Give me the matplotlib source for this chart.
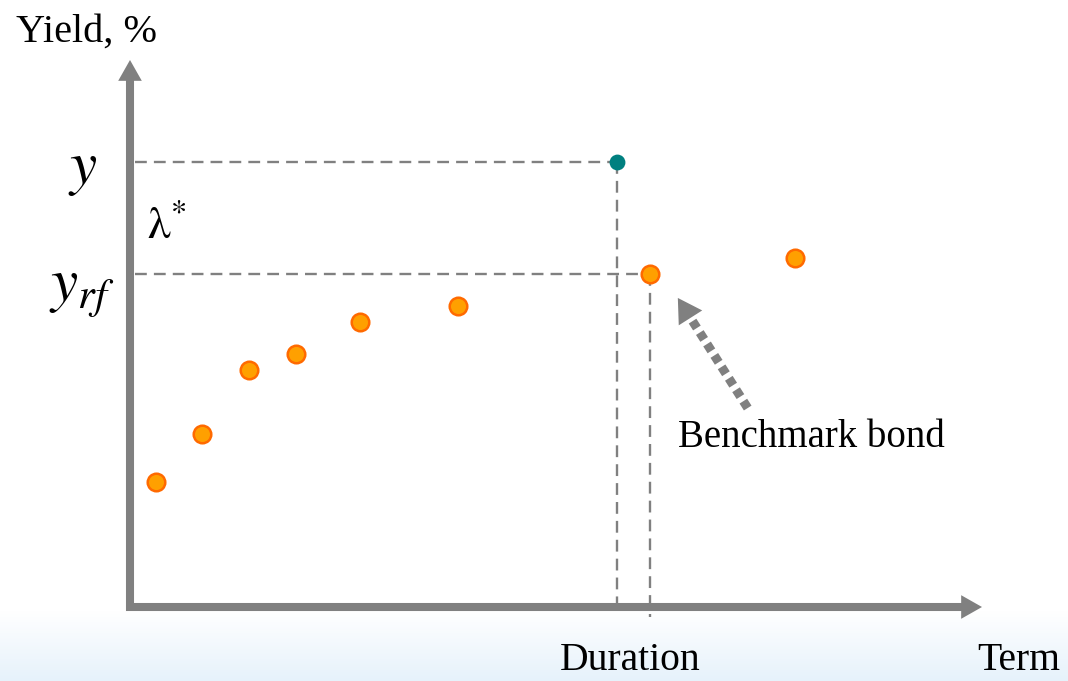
import numpy as np
import matplotlib.pyplot as plt
from matplotlib.patches import FancyArrowPatch
from matplotlib.colors import LinearSegmentedColormap

# bond yield curve points (term in years, yield in %)
terms = [0.3, 0.85, 1.4, 1.95, 2.7, 3.85, 6.1, 7.8]
yields = [1.83, 2.53, 3.47, 3.70, 4.17, 4.40, 4.87, 5.10]
benchmark_idx = 6

# priced bond: its duration and yield
duration = 5.72
bond_yield = 6.51

plt.rcParams['mathtext.fontset'] = 'stix'
serif = ['Liberation Serif', 'DejaVu Serif']
grey = '#808080'

fig = plt.figure(figsize=(10.68, 6.81), dpi=100)

# pale blue band along the bottom
bg = fig.add_axes([0, 0, 1, 70 / 681], zorder=0)
grad = np.linspace(0, 1, 256).reshape(-1, 1)
cmap = LinearSegmentedColormap.from_list('band', ['#e6f2fb', '#ffffff'])
bg.imshow(grad, aspect='auto', cmap=cmap, origin='lower', extent=[0, 1, 0, 1])
bg.axis('off')

ax = fig.add_axes([130 / 1068, 74 / 681, 852 / 1068, 547 / 681], zorder=1)
ax.set_facecolor('none')
ax.set_xlim(0, 10)
ax.set_ylim(0, 8)
ax.axis('off')

# axes drawn as thick grey arrows
ax.plot([0, 0, 9.8], [7.8, 0, 0], color=grey, lw=5.8, solid_joinstyle='miter',
        solid_capstyle='projecting', clip_on=False, zorder=2)
for a, b in [((0, 7.6), (0, 8)), ((9.6, 0), (10, 0))]:
    ax.add_patch(FancyArrowPatch(a, b, arrowstyle='-|>,head_length=15,head_width=8.5',
                                 mutation_scale=1, lw=0, color=grey, shrinkA=0, shrinkB=0,
                                 clip_on=False, zorder=3))

# guide lines to the priced bond and the benchmark
bx, by = terms[benchmark_idx], yields[benchmark_idx]
dash = dict(color=grey, lw=1.7, linestyle=(0, (5, 3)), clip_on=False, zorder=1)
ax.plot([0.06, duration], [bond_yield, bond_yield], **dash)
ax.plot([0.06, bx], [by, by], **dash)
ax.plot([duration, duration], [bond_yield, 0], **dash)
ax.plot([bx, bx], [by, -0.15], **dash)

ax.scatter(terms, yields, s=160, color='#ffa000', edgecolor='#ff6a00', linewidth=1.8, zorder=4)
ax.scatter([duration], [bond_yield], s=130, color='#008080', linewidth=0, zorder=4)

# dotted pointer to the benchmark bond
tail = (7.25, 2.91)
tip = (6.43, 4.52)
near = (tip[0] + 0.13 * (tail[0] - tip[0]), tip[1] + 0.13 * (tail[1] - tip[1]))
ax.plot([tail[0], near[0]], [tail[1], near[1]], color=grey, lw=6.5,
        linestyle=(0, (0.9, 0.6)), dash_capstyle='butt', zorder=3)
ax.add_patch(FancyArrowPatch(near, tip, arrowstyle='-|>,head_length=17,head_width=10',
                             mutation_scale=1, lw=0, color=grey, shrinkA=0, shrinkB=0, zorder=3))
ax.text(6.43, 2.48, 'Benchmark bond', fontsize=28, family=serif, ha='left', va='center')

# labels
fig.text(16 / 1068, 1 - 32 / 681, 'Yield, %', fontsize=29, family=serif, ha='left', va='center')
ax.text(-0.56, bond_yield - 0.1, '$y$', fontsize=44, ha='center', va='center', clip_on=False)
ax.text(0.2, 5.57, r'$\mathrm{\lambda}^{*}$', fontsize=33, ha='left', va='center', clip_on=False)
ax.text(-0.57, by - 0.22, r'$y_{rf}$', fontsize=44, ha='center', va='center', clip_on=False)
ax.text(duration + 0.15, -1.06, 'Duration', fontsize=28.5, family=serif, ha='center', va='bottom',
        clip_on=False)
ax.text(10.43, -1.06, 'Term', fontsize=28.5, family=serif, ha='center', va='bottom', clip_on=False)

fig.savefig('out.png', dpi=100)
